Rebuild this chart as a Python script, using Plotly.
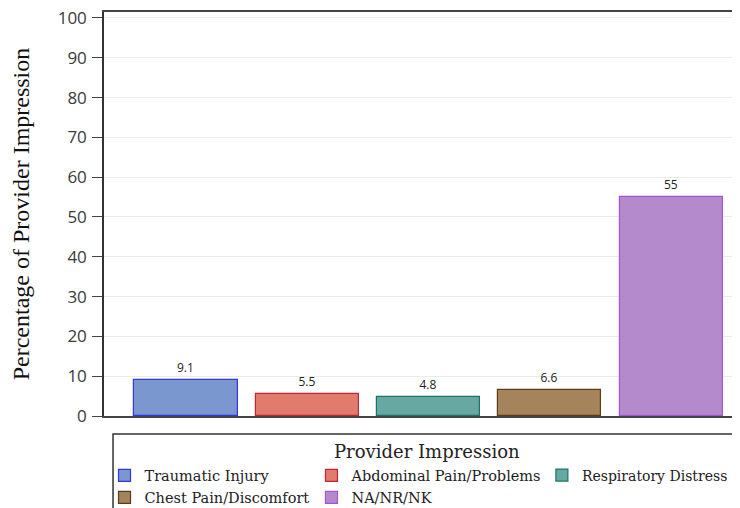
import plotly.graph_objects as go

categories = ["Traumatic Injury", "Abdominal Pain/Problems", "Respiratory Distress",
              "Chest Pain/Discomfort", "NA/NR/NK"]
percent = [9.1, 5.5, 4.8, 6.6, 55]
fill_colors = ["#7a97cf", "#e07b6d", "#67a8a0", "#a6845b", "#b58acc"]
line_colors = ["#3434e8", "#c42433", "#1f7366", "#5c3b17", "#a553d9"]
legend_column = ["legend", "legend2", "legend3", "legend", "legend2"]
y_ticks = list(range(0, 101, 10))

fig = go.Figure()
for i, (cat, val) in enumerate(zip(categories, percent)):
    fig.add_trace(go.Bar(
        x=[i], y=[val], name=cat, width=0.85, legend=legend_column[i],
        marker=dict(color=fill_colors[i], line=dict(color=line_colors[i], width=1.2)),
        text=[f"{val:g}"], textposition="outside", cliponaxis=False,
        textfont=dict(family="Open Sans", size=12, color="#222"),
    ))

leg_common = dict(orientation="v", yanchor="top", xanchor="left", y=-0.1077,
                  tracegroupgap=0, bgcolor="rgba(0,0,0,0)")

fig.update_layout(
    width=740, height=508,
    margin=dict(l=96, r=8, t=4, b=100, autoexpand=False),
    plot_bgcolor="white", paper_bgcolor="white",
    barmode="overlay", bargap=0,
    showlegend=True,
    legend=dict(x=0.0008, font=dict(family="DejaVu Serif", size=14.5, color="#222"), **leg_common),
    legend2=dict(x=0.3262, font=dict(family="DejaVu Serif", size=14.5, color="#222"), **leg_common),
    legend3=dict(x=0.6885, font=dict(family="DejaVu Serif", size=14, color="#222"), **leg_common),
    annotations=[dict(text="Provider Impression", xref="paper", yref="paper",
                      x=0.5079, y=-0.0891, xanchor="center", yanchor="middle",
                      showarrow=False,
                      font=dict(family="DejaVu Serif", size=18, color="#222"))],
    shapes=[dict(type="rect", xref="paper", yref="paper", x0=0.0142, x1=1.2,
                 y0=-0.6, y1=-0.0446, line=dict(color="#333", width=1.5))],
)
fig.update_xaxes(range=[-0.676, 4.567], showticklabels=False, ticks="",
                 showgrid=False, showline=True, linecolor="#444", linewidth=1.5,
                 mirror=True, zeroline=False)
fig.update_yaxes(range=[0, 101.5], tickvals=y_ticks, ticks="outside", ticklen=10,
                 tickcolor="#444", showline=True, linecolor="#333", linewidth=1.5,
                 gridcolor="#ebebeb", zeroline=False, ticklabeloverflow="allow",
                 ticklabelstandoff=2,
                 tickfont=dict(family="Open Sans", size=17, color="#3a3a3a"),
                 title=dict(text="Percentage of Provider Impression", standoff=30,
                            font=dict(family="Liberation Serif", size=24, color="#111")))

fig.write_html("out.html")
